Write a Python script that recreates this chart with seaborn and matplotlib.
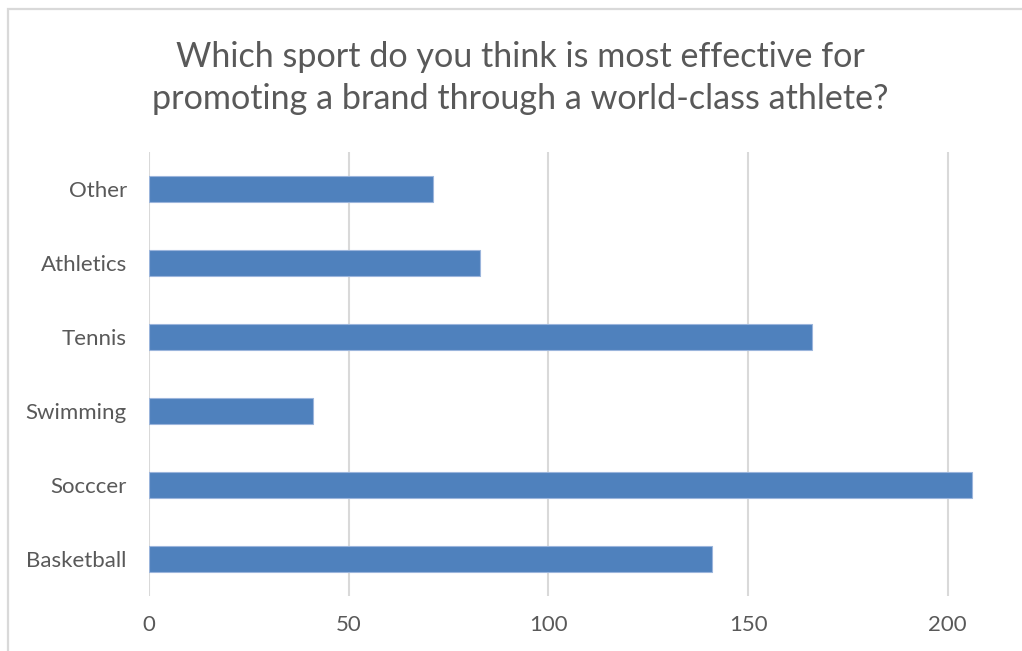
import matplotlib
matplotlib.use("Agg")
import matplotlib.pyplot as plt
from matplotlib.patches import Rectangle
import seaborn as sns
import pandas as pd

# Survey answers (top-to-bottom order as drawn)
sports = ["Other", "Athletics", "Tennis", "Swimming", "Socccer", "Basketball"]
votes = [71, 83, 166, 41, 206, 141]
x_ticks = [0, 50, 100, 150, 200]

title = "Which sport do you think is most effective for\npromoting a brand through a world-class athlete?"

sns.set_theme(style="white")
plt.rcParams["font.family"] = ["Lato", "DejaVu Sans"]

W, H, DPI = 1022, 651, 100
fig = plt.figure(figsize=(W / DPI, H / DPI), dpi=DPI)
fig.patch.set_facecolor("white")

# plot area in pixel coordinates
left, right, top, bottom = 149, 1010, 152, 596
ax = fig.add_axes([left / W, 1 - bottom / H, (right - left) / W, (bottom - top) / H])

df = pd.DataFrame({"sport": sports, "votes": votes})
sns.barplot(data=df, x="votes", y="sport", order=sports, color="#4f81bd",
            saturation=1, width=0.35, ax=ax, edgecolor="#9bb5dc", linewidth=0.8,
            zorder=3)

px_per_unit = (947.7 - 149) / 200
ax.set_xlim(0, (right - left) / px_per_unit)
ax.set_ylim(len(sports) - 0.5, -0.5)
ax.set_xticks(x_ticks)
ax.set_xticklabels([str(t) for t in x_ticks])
ax.set_xlabel("")
ax.set_ylabel("")

for t in x_ticks:
    ax.axvline(t, color="#d9d9d9", linewidth=1.5, zorder=1)

for s in ax.spines.values():
    s.set_visible(False)

ax.tick_params(axis="both", length=0, labelsize=16, colors="#595959")
ax.tick_params(axis="y", pad=16)
ax.tick_params(axis="x", pad=14)

fig.text(520 / W, 1 - 78 / H, title, ha="center", va="center",
         fontsize=24.6, color="#595959", linespacing=1.38)

# outer chart frame
fig.patches.append(Rectangle((7.5 / W, -0.1), 1.2, 1 - 9 / H + 0.1,
                             transform=fig.transFigure, fill=False,
                             edgecolor="#d9d9d9", linewidth=1.6))

fig.savefig("out.png", dpi=DPI)
